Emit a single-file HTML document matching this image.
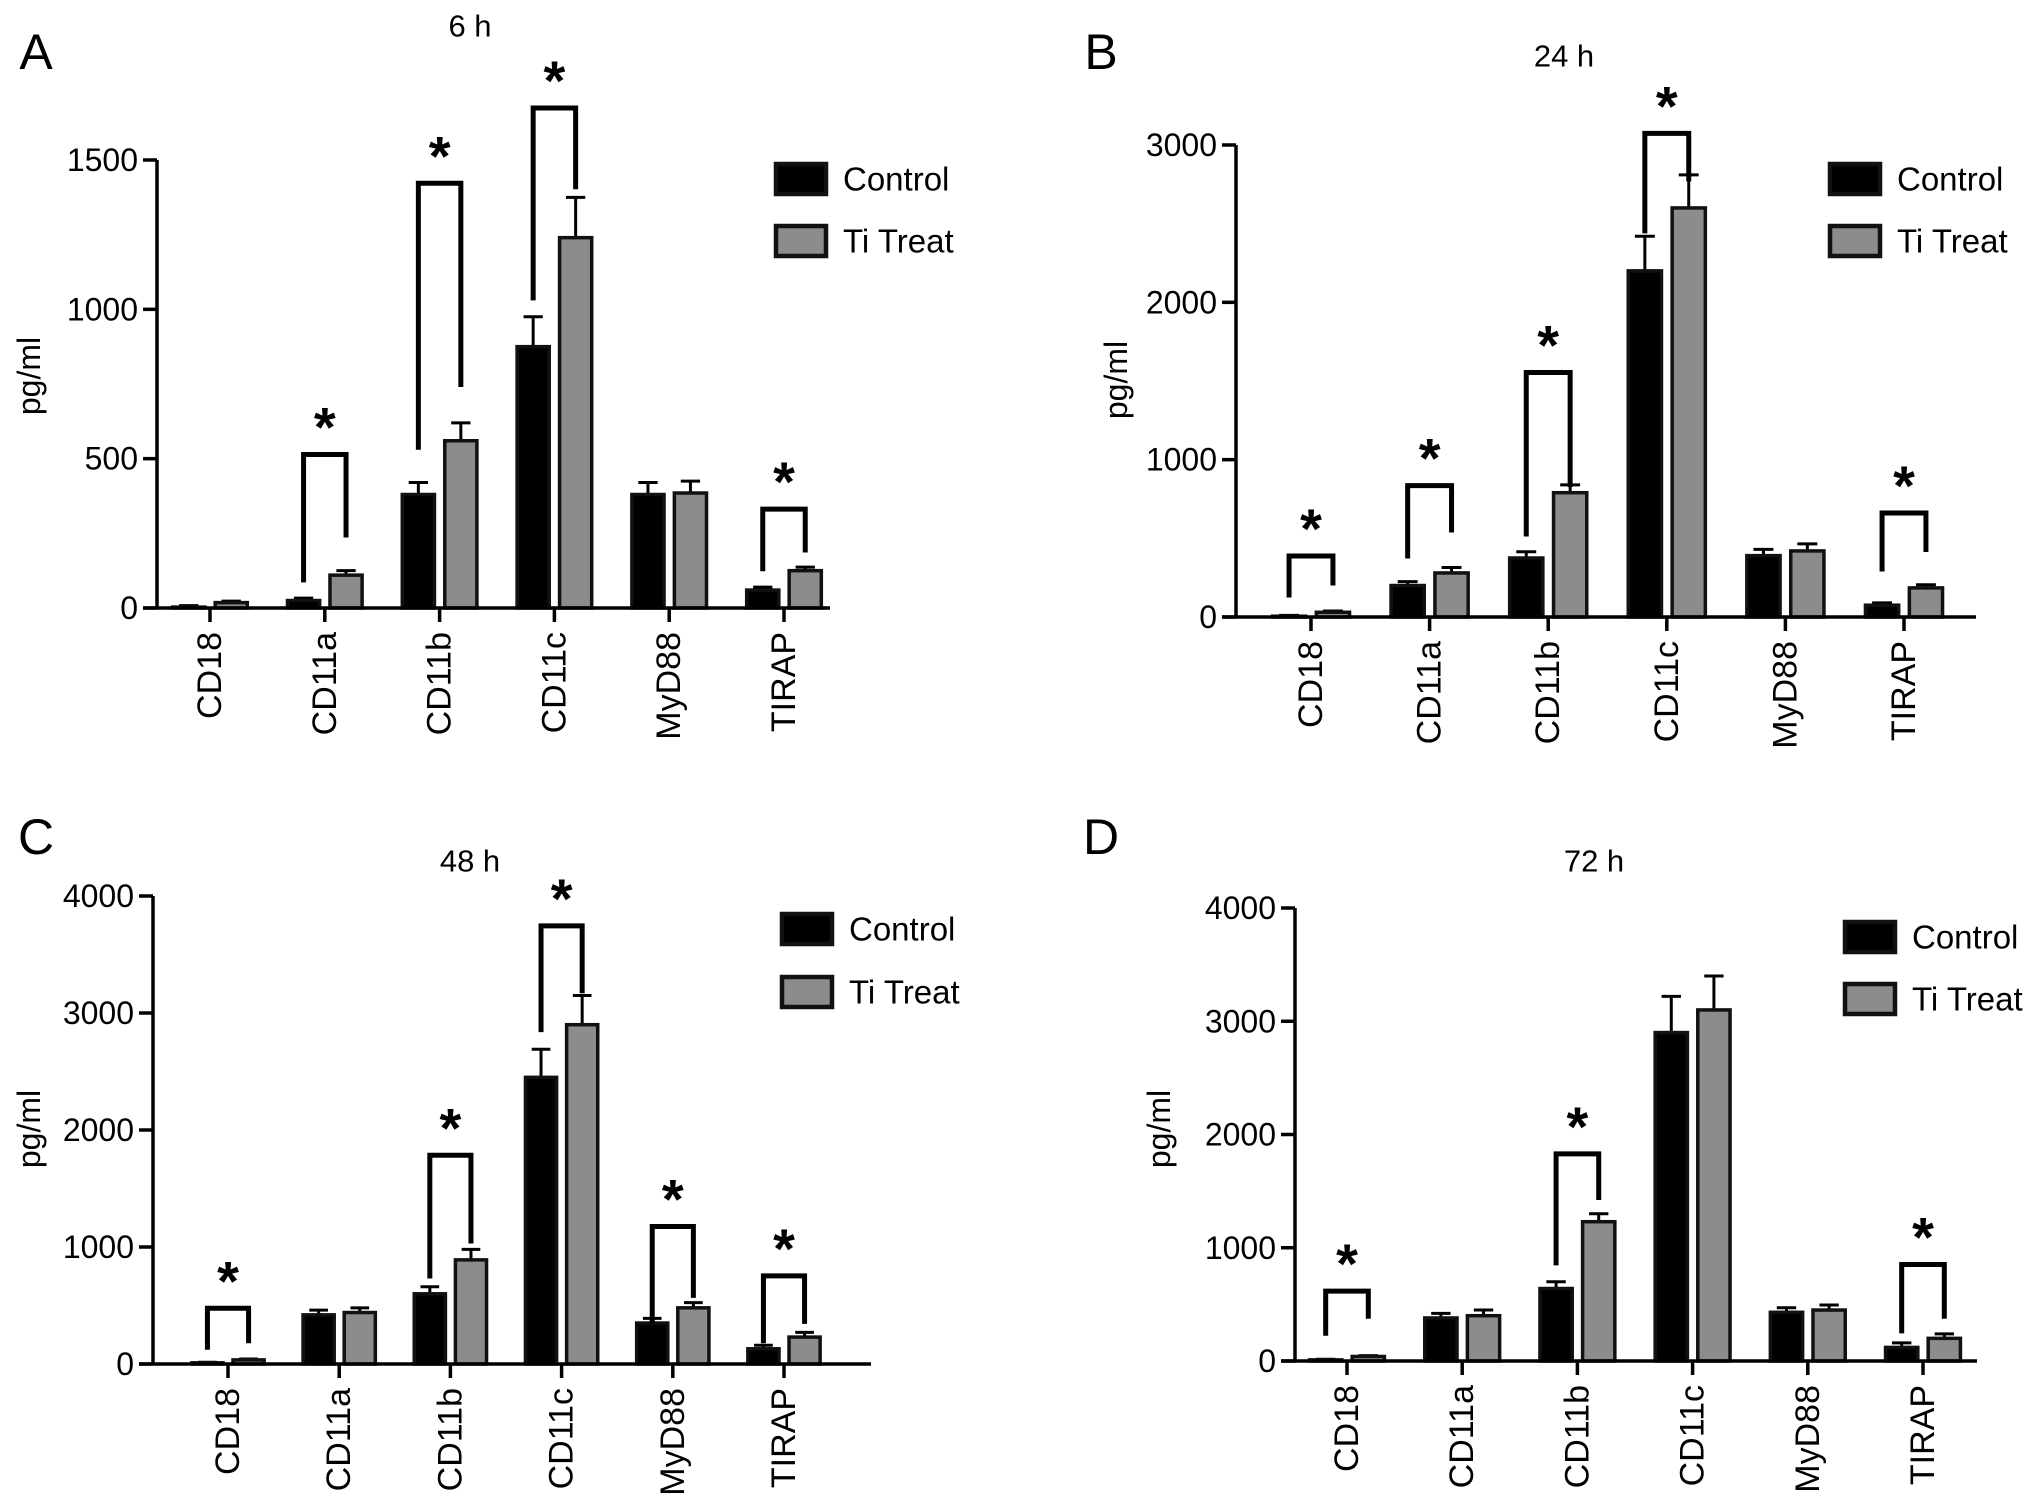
<!DOCTYPE html>
<html><head><meta charset="utf-8">
<style>
html,body{margin:0;padding:0;background:#fff;}
svg{display:block;font-family:"Liberation Sans",Arial,sans-serif;}
</style></head>
<body>
<svg id="fig" width="2032" height="1510" viewBox="0 0 2032 1510"></svg>
<script>
const categories = ["CD18","CD11a","CD11b","CD11c","MyD88","TIRAP"];
// Panel A (6 h)
const ctrlA = [3,25,380,875,380,60];
const ctrlAErr = [5,8,40,100,40,10];
const trtA = [18,110,560,1240,385,125];
const trtAErr = [5,15,60,135,40,12];
const sigA = [1,2,3,5];
const sigTopA = [514,1422,1674,331];
const sigLegLA = [86,530,1030,123];
const sigLegRA = [236,740,1402,186];
const ticksA = [0,500,1000,1500];
// Panel B (24 h)
const ctrlB = [5,200,375,2200,390,75];
const ctrlBErr = [5,25,40,220,40,15];
const trtB = [30,280,790,2600,420,185];
const trtBErr = [8,35,50,210,45,20];
const sigB = [0,1,2,3,5];
const sigTopB = [388,835,1554,3074,661];
const sigLegLB = [124,372,512,2438,289];
const sigLegRB = [200,537,826,2769,413];
const ticksB = [0,1000,2000,3000];
// Panel C (48 h)
const ctrlC = [10,420,600,2450,350,130];
const ctrlCErr = [5,40,60,240,40,30];
const trtC = [35,440,890,2900,480,230];
const trtCErr = [8,40,90,250,45,40];
const sigC = [0,2,3,4,5];
const sigTopC = [476,1784,3745,1175,753];
const sigLegLC = [122,731,2837,343,177];
const sigLegRC = [177,1030,3169,565,343];
const ticksC = [0,1000,2000,3000,4000];
// Panel D (72 h)
const ctrlD = [10,380,640,2900,430,120];
const ctrlDErr = [5,40,60,320,40,40];
const trtD = [40,400,1230,3100,450,200];
const trtDErr = [8,50,70,300,45,40];
const sigD = [0,2,5];
const sigTopD = [617,1829,852];
const sigLegLD = [223,844,244];
const sigLegRD = [373,1422,373];
const ticksD = [0,1000,2000,3000,4000];

const NS="http://www.w3.org/2000/svg";
const svg=document.getElementById('fig');
function mk(tag,attrs,parent,text){const e=document.createElementNS(NS,tag);for(const k in attrs)e.setAttribute(k,attrs[k]);if(text!==undefined)e.textContent=text;(parent||svg).appendChild(e);return e;}

function panel(p){
  const g=mk('g',{});
  
  
  const ymax=p.ticks[p.ticks.length-1];
  const Y=v=>p.y0-(v/ymax)*(p.y0-p.yTop);
  const X=i=>p.x0c+i*p.step;
  const off=p.step*0.185, bw=p.step*0.28;
  let t=mk('text',{x:p.lx,y:p.ly,'font-size':50,'text-anchor':'middle','dominant-baseline':'central'},g,p.letter);
   
  t=mk('text',{x:p.tx,y:p.ty,'font-size':31,'text-anchor':'middle','dominant-baseline':'central'},g,p.title);
   
  t=mk('text',{x:p.yl,y:p.ylc,'font-size':32,'text-anchor':'middle','dominant-baseline':'central',transform:`rotate(-90 ${p.yl} ${p.ylc})`},g,'pg/ml');
   
  const series=[[p.ctrl,p.ctrlErr,-off,'#000'],[p.trt,p.trtErr,off,'#8c8c8c']];
  series.forEach((s,si)=>{
    s[0].forEach((v,i)=>{
      const cx=X(i)+s[2];
      const top=Y(v+s[1][i]);
      let l=mk('line',{x1:cx,x2:cx,y1:Y(v),y2:top,stroke:'#000','stroke-width':3},g);
       
      l=mk('line',{x1:cx-bw*0.3,x2:cx+bw*0.3,y1:top,y2:top,stroke:'#000','stroke-width':3},g);
       
      const r=mk('rect',{x:cx-bw/2,y:Y(v),width:bw,height:Math.max(0.5,p.y0-Y(v)),fill:s[3],stroke:'#111','stroke-width':3.5},g);
      
      
    });
  });
  let a=mk('line',{x1:p.x0,x2:p.x0,y1:p.yTop,y2:p.y0+1.5,stroke:'#000','stroke-width':3.5},g);
   
  a=mk('line',{x1:p.x0-14,x2:p.xEnd,y1:p.y0,y2:p.y0,stroke:'#000','stroke-width':3.5},g);
   
  p.ticks.forEach(v=>{
    let l=mk('line',{x1:p.x0-14,x2:p.x0,y1:Y(v),y2:Y(v),stroke:'#000','stroke-width':3.5},g);
     
    let tx=mk('text',{x:p.x0-19,y:Y(v),'font-size':32,'text-anchor':'end','dominant-baseline':'central'},g,String(v));
     
  });
  categories.forEach((c,i)=>{
    let l=mk('line',{x1:X(i),x2:X(i),y1:p.y0,y2:p.y0+14,stroke:'#000','stroke-width':3.5},g);
     
    const lx=X(i), ly=p.y0+24;
    let tx=mk('text',{x:lx,y:ly,'font-size':34,'text-anchor':'end','dominant-baseline':'central',transform:`rotate(-90 ${lx} ${ly})`},g,c);
     
  });
  p.sig.forEach((ci,k)=>{
    const xl=X(ci)-off, xr=X(ci)+off, yt=Y(p.sigTop[k]);
    let pl=mk('polyline',{points:`${xl},${Y(p.sigL[k])} ${xl},${yt} ${xr},${yt} ${xr},${Y(p.sigR[k])}`,fill:'none',stroke:'#000','stroke-width':5},g);
     
    let st=mk('text',{x:X(ci),y:yt-8,'font-size':56,'font-weight':'bold','text-anchor':'middle'},g,'*');
     
  });
  [['Control','#000',p.lgy1],['Ti Treat','#8c8c8c',p.lgy2]].forEach(e=>{
    const lg=mk('g',{},g);
    
    
    mk('rect',{x:p.lgx,y:e[2]-15,width:50,height:30,fill:e[1],stroke:'#111','stroke-width':4.5},lg);
    mk('text',{x:p.lgx+67,y:e[2],'font-size':33,'dominant-baseline':'central'},lg,e[0]);
  });
}

panel({letter:'A',lx:36,ly:52,title:'6 h',tx:470,ty:26,yl:29,ylc:376,
  x0:157,y0:608,yTop:160,xEnd:830,x0c:210,step:114.8,ticks:ticksA,
  ctrl:ctrlA,ctrlErr:ctrlAErr,trt:trtA,trtErr:trtAErr,sig:sigA,sigTop:sigTopA,sigL:sigLegLA,sigR:sigLegRA,
  lgx:776,lgy1:179,lgy2:241});
panel({letter:'B',lx:1101,ly:52,title:'24 h',tx:1564,ty:56,yl:1116,ylc:380,
  x0:1236,y0:617,yTop:145,xEnd:1976,x0c:1311,step:118.6,ticks:ticksB,
  ctrl:ctrlB,ctrlErr:ctrlBErr,trt:trtB,trtErr:trtBErr,sig:sigB,sigTop:sigTopB,sigL:sigLegLB,sigR:sigLegRB,
  lgx:1830,lgy1:179,lgy2:241});
panel({letter:'C',lx:36,ly:837,title:'48 h',tx:470,ty:861,yl:29,ylc:1129,
  x0:153,y0:1364,yTop:896,xEnd:871,x0c:228,step:111.2,ticks:ticksC,
  ctrl:ctrlC,ctrlErr:ctrlCErr,trt:trtC,trtErr:trtCErr,sig:sigC,sigTop:sigTopC,sigL:sigLegLC,sigR:sigLegRC,
  lgx:782,lgy1:929,lgy2:992});
panel({letter:'D',lx:1101,ly:837,title:'72 h',tx:1594,ty:861,yl:1159,ylc:1129,
  x0:1295,y0:1361,yTop:908,xEnd:1977,x0c:1347,step:115.2,ticks:ticksD,
  ctrl:ctrlD,ctrlErr:ctrlDErr,trt:trtD,trtErr:trtDErr,sig:sigD,sigTop:sigTopD,sigL:sigLegLD,sigR:sigLegRD,
  lgx:1845,lgy1:937,lgy2:999});
</script>
</body></html>
